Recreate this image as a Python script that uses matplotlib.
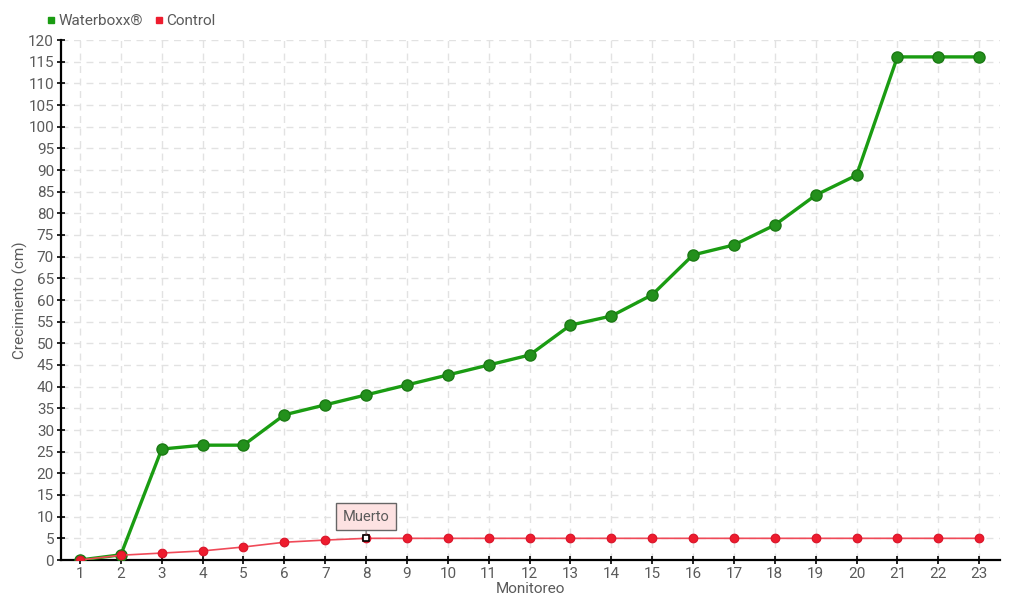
import matplotlib
matplotlib.use("Agg")
import matplotlib.pyplot as plt
from matplotlib.lines import Line2D

monitoreo = list(range(1, 24))
waterboxx = [0, 1.2, 25.6, 26.5, 26.5, 33.5, 35.8, 38.1, 40.4, 42.7, 45.0, 47.3,
             54.2, 56.3, 61.2, 70.4, 72.7, 77.3, 84.2, 88.8, 116.1, 116.1, 116.1]
control = [0, 1.1, 1.6, 2.1, 3.0, 4.1, 4.6, 5.0, 5.0, 5.0, 5.0, 5.0,
           5.0, 5.0, 5.0, 5.0, 5.0, 5.0, 5.0, 5.0, 5.0, 5.0, 5.0]
y_ticks = list(range(0, 121, 5))
muerto_idx = 7
muerto_label = "Muerto"

plt.rcParams['font.family'] = ['Roboto', 'DejaVu Sans']
txt = '#5a5a5a'

fig = plt.figure(figsize=(10.2, 6.0), dpi=100)
ax = fig.add_axes([61/1020, 40/600, (1000-61)/1020, 520/600])

green = '#1a9c12'
red = '#ee1c2e'
ax.plot(monitoreo, waterboxx, color=green, lw=2.4, zorder=3,
        marker='o', ms=8, mfc='#23901c', mec='#1b7a14', mew=1)
ax.plot(monitoreo, control, color='#f04a58', lw=1.2, zorder=4,
        marker='o', ms=6.2, mfc=red, mec='#d8142a', mew=0.8)
ax.plot([monitoreo[muerto_idx]], [control[muerto_idx]], marker='s', ms=4.5,
        mfc='white', mec='black', mew=1.2, zorder=6, ls='none')

ax.annotate(muerto_label, xy=(monitoreo[muerto_idx], control[muerto_idx]),
            xytext=(0, 15.5), textcoords='offset points', ha='center', va='center',
            fontsize=10.5, color=txt, zorder=7,
            bbox=dict(boxstyle='square,pad=0.45', fc='#fde2e2', ec='#666666', lw=1),
            arrowprops=dict(arrowstyle='-', color='#666666', lw=0.8, shrinkA=0, shrinkB=3))

ax.set_xlim(0.535, 23.51)
ax.set_ylim(0, 120)
ax.set_xticks(monitoreo)
ax.set_yticks(y_ticks)
ax.tick_params(axis='both', colors='black', labelcolor=txt, labelsize=11,
               direction='inout', length=6, width=1.2, pad=2)
for s in ['top', 'right']:
    ax.spines[s].set_visible(False)
for s in ['left', 'bottom']:
    ax.spines[s].set_linewidth(1.6)
ax.grid(True, color='#e2e2e2', ls=(0, (5, 4)), lw=1)
ax.set_axisbelow(True)

ax.set_xlabel('Monitoreo', fontsize=11, color=txt, labelpad=1)
ax.set_ylabel('Crecimiento (cm)', fontsize=11, color=txt)
ax.yaxis.set_label_coords(-33/939, 0.5)

handles = [Line2D([], [], ls='none', marker='s', ms=5, mfc=green, mec=green),
           Line2D([], [], ls='none', marker='s', ms=5, mfc=red, mec=red)]
fig.legend(handles, ['Waterboxx®', 'Control'], loc='upper left',
           bbox_to_anchor=(45/1020, 1 - 14/600), ncol=2, frameon=False,
           fontsize=11, labelcolor=txt, handletextpad=0.1, columnspacing=0.6,
           handlelength=0.8, borderaxespad=0, borderpad=0)

fig.savefig('out.png', dpi=100)
